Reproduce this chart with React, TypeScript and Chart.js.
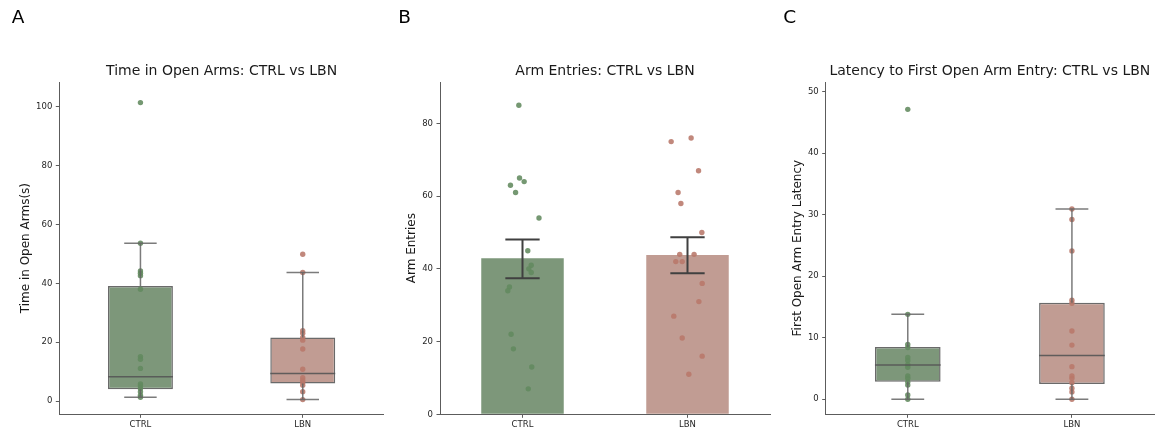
import React, { useEffect, useRef } from 'react';
import { Chart, registerables } from 'chart.js';

Chart.register(...registerables);

const FONT = "'DejaVu Sans', 'Liberation Sans', sans-serif";

// ---------- shared ----------
const categories = ['CTRL', 'LBN'];
const categoryPositions = [0, 1];

// ---------- Panel A: Time in Open Arms ----------
const timeCtrlPoints = [101.4, 53.6, 44.2, 43.4, 42.6, 38.0, 15.1, 14.2, 11.1, 5.8, 5.1, 4.3, 3.2, 2.0, 1.3];
const timeLbnPoints = [49.9, 43.7, 23.9, 23.0, 21.6, 20.7, 17.7, 10.8, 7.9, 7.1, 6.3, 5.4, 3.2, 0.5];
const timeQ1 = [4.0, 6.0];
const timeMedian = [8.3, 9.4];
const timeQ3 = [39.1, 21.6];
const timeWhiskerLow = [1.3, 0.5];
const timeWhiskerHigh = [53.6, 43.7];
const timeTicks = [0, 20, 40, 60, 80, 100];

// ---------- Panel B: Arm Entries ----------
const entriesMean = [42.9, 43.8];
const entriesErrLow = [37.4, 38.8];
const entriesErrHigh = [48.1, 48.7];
const entriesCtrlPoints = [85, 65, 64, 63, 61, 54, 45, 41, 40, 39, 35, 34, 22, 18, 13, 7];
const entriesCtrlJitter = [-0.022, -0.018, 0.01, -0.073, -0.042, 0.1, 0.032, 0.053, 0.038, 0.053, -0.079, -0.089, -0.069, -0.055, 0.056, 0.035];
const entriesLbnPoints = [75, 76, 67, 61, 58, 50, 44, 44, 42, 42, 36, 31, 27, 21, 16, 11];
const entriesLbnJitter = [-0.099, 0.022, 0.067, -0.057, -0.04, 0.087, -0.047, 0.04, -0.071, -0.032, 0.089, 0.069, -0.083, -0.032, 0.089, 0.008];
const entriesTicks = [0, 20, 40, 60, 80];

// ---------- Panel C: Latency ----------
const latCtrlPoints = [47.1, 13.8, 8.9, 8.4, 6.8, 6.3, 5.6, 5.2, 3.8, 3.4, 2.8, 2.3, 0.7, 0.0];
const latLbnPoints = [30.9, 29.2, 24.1, 16.1, 15.6, 11.1, 8.8, 5.3, 3.8, 3.4, 2.7, 1.8, 1.2, 0.0];
const latQ1 = [2.85, 2.5];
const latMedian = [5.55, 7.1];
const latQ3 = [8.5, 15.7];
const latWhiskerLow = [0.0, 0.0];
const latWhiskerHigh = [13.8, 30.9];
const latTicks = [0, 10, 20, 30, 40, 50];

// ---------- colours ----------
const FILLS = ['rgb(125,151,122)', 'rgb(193,156,147)'];
const POINTS = ['rgba(98,138,95,0.88)', 'rgba(184,120,106,0.88)'];
const AXIS = '#5c5c5c';
const TEXT = '#262626';

function makeBoxPlugin(q1: number[], med: number[], q3: number[], lo: number[], hi: number[]) {
  return {
    id: 'boxWhiskers',
    afterDatasetsDraw(chart: any) {
      const x = chart.scales.x;
      const y = chart.scales.y;
      const ctx = chart.ctx;
      ctx.save();
      categoryPositions.forEach((pos, i) => {
        const cx = x.getPixelForValue(pos);
        const capL = x.getPixelForValue(pos - 0.1);
        const capR = x.getPixelForValue(pos + 0.1);
        const boxL = x.getPixelForValue(pos - 0.2);
        const boxR = x.getPixelForValue(pos + 0.2);
        const yq1 = y.getPixelForValue(q1[i]);
        const yq3 = y.getPixelForValue(q3[i]);
        const ylo = y.getPixelForValue(lo[i]);
        const yhi = y.getPixelForValue(hi[i]);
        const ym = y.getPixelForValue(med[i]);
        ctx.strokeStyle = 'rgba(100,100,100,0.85)';
        ctx.lineWidth = 1.5;
        ctx.beginPath();
        ctx.moveTo(cx, yq3); ctx.lineTo(cx, yhi);
        ctx.moveTo(cx, yq1); ctx.lineTo(cx, ylo);
        ctx.moveTo(capL, yhi); ctx.lineTo(capR, yhi);
        ctx.moveTo(capL, ylo); ctx.lineTo(capR, ylo);
        ctx.stroke();
        ctx.strokeStyle = 'rgba(85,85,85,0.9)';
        ctx.beginPath();
        ctx.moveTo(boxL, ym); ctx.lineTo(boxR, ym);
        ctx.stroke();
      });
      ctx.restore();
    },
  };
}

function makeErrorPlugin(lo: number[], hi: number[]) {
  return {
    id: 'errorBars',
    afterDatasetsDraw(chart: any) {
      const x = chart.scales.x;
      const y = chart.scales.y;
      const ctx = chart.ctx;
      ctx.save();
      ctx.strokeStyle = '#404040';
      ctx.lineWidth = 2;
      categoryPositions.forEach((pos, i) => {
        const cx = x.getPixelForValue(pos);
        const capL = x.getPixelForValue(pos - 0.104);
        const capR = x.getPixelForValue(pos + 0.104);
        const ylo = y.getPixelForValue(lo[i]);
        const yhi = y.getPixelForValue(hi[i]);
        ctx.beginPath();
        ctx.moveTo(cx, ylo); ctx.lineTo(cx, yhi);
        ctx.moveTo(capL, ylo); ctx.lineTo(capR, ylo);
        ctx.moveTo(capL, yhi); ctx.lineTo(capR, yhi);
        ctx.stroke();
      });
      ctx.restore();
    },
  };
}

function makeLetterPlugin(text: string, lx: number) {
  return {
    id: 'panelLetter',
    afterDraw(chart: any) {
      const ctx = chart.ctx;
      ctx.save();
      ctx.font = `18.5px ${FONT}`;
      ctx.fillStyle = '#000';
      ctx.textBaseline = 'alphabetic';
      ctx.textAlign = 'left';
      ctx.fillText(text, lx, 22.7);
      ctx.restore();
    },
  };
}

type PanelGeom = {
  axisLeft: number; // y-axis width inside canvas
  rightPad: number;
  yMin: number;
  yMax: number;
  yTicks: number[];
  yTitle: string;
  yTitlePad: number;
  title: string;
};

function baseOptions(g: PanelGeom) {
  return {
    responsive: false,
    animation: false,
    devicePixelRatio: 1,
    events: [],
    layout: { padding: { top: 62.6, right: g.rightPad, bottom: 0, left: 0 } },
    plugins: {
      legend: { display: false },
      tooltip: { enabled: false },
      title: {
        display: true,
        text: g.title,
        fullSize: false,
        color: '#1a1a1a',
        font: { family: FONT, size: 14, weight: 'normal', lineHeight: 1.2 },
        padding: { top: 0, bottom: 2.6 },
      },
    },
    scales: {
      x: {
        type: 'linear',
        min: -0.5,
        max: 1.5,
        offset: false,
        afterBuildTicks: (s: any) => { s.ticks = categoryPositions.map((v) => ({ value: v })); },
        afterFit: (s: any) => { s.height = 19.7; },
        grid: { display: true, offset: false, drawOnChartArea: false, drawTicks: true, tickLength: 3.5, color: AXIS, tickColor: AXIS, lineWidth: 1 },
        border: { display: true, color: AXIS, width: 1 },
        ticks: {
          padding: 2,
          color: TEXT,
          font: { family: FONT, size: 8.5 },
          maxRotation: 0,
          autoSkip: false,
          callback: (v: number) => categories[categoryPositions.indexOf(v)] ?? '',
        },
      },
      y: {
        type: 'linear',
        min: g.yMin,
        max: g.yMax,
        afterBuildTicks: (s: any) => { s.ticks = g.yTicks.map((v) => ({ value: v })); },
        afterFit: (s: any) => { s.width = g.axisLeft; },
        grid: { display: true, drawOnChartArea: false, drawTicks: true, tickLength: 3.5, color: AXIS, tickColor: AXIS, lineWidth: 1 },
        border: { display: true, color: AXIS, width: 1 },
        ticks: {
          padding: 3.5,
          color: TEXT,
          font: { family: FONT, size: 8.5 },
          callback: (v: number) => String(v),
        },
        title: {
          display: true,
          text: g.yTitle,
          color: '#1a1a1a',
          font: { family: FONT, size: 12, lineHeight: 1.2 },
          padding: { top: g.yTitlePad, bottom: 0 },
        },
      },
    },
  };
}

function boxConfig(g: PanelGeom, letter: string, lx: number, ctrl: number[], lbn: number[], q1: number[], med: number[], q3: number[], lo: number[], hi: number[]) {
  return {
    type: 'bar',
    data: {
      datasets: [
        {
          type: 'bar',
          order: 2,
          data: categoryPositions.map((p, i) => ({ x: p, y: [q1[i], q3[i]] })),
          backgroundColor: FILLS,
          borderColor: 'rgba(90,90,90,0.9)',
          borderWidth: 1.5,
          borderSkipped: false,
          barPercentage: 0.4,
          categoryPercentage: 1,
        },
        {
          type: 'scatter',
          order: 1,
          data: ctrl.map((v) => ({ x: categoryPositions[0], y: v })),
          backgroundColor: POINTS[0],
          borderWidth: 0,
          pointRadius: 2.7,
        },
        {
          type: 'scatter',
          order: 1,
          data: lbn.map((v) => ({ x: categoryPositions[1], y: v })),
          backgroundColor: POINTS[1],
          borderWidth: 0,
          pointRadius: 2.7,
        },
      ],
    },
    options: baseOptions(g),
    plugins: [makeBoxPlugin(q1, med, q3, lo, hi), makeLetterPlugin(letter, lx)],
  };
}

function barConfig(g: PanelGeom) {
  return {
    type: 'bar',
    data: {
      datasets: [
        {
          type: 'bar',
          order: 2,
          data: categoryPositions.map((p, i) => ({ x: p, y: entriesMean[i] })),
          backgroundColor: FILLS,
          borderWidth: 0,
          barPercentage: 0.5,
          categoryPercentage: 1,
        },
        {
          type: 'scatter',
          order: 1,
          data: entriesCtrlPoints.map((v, j) => ({ x: categoryPositions[0] + entriesCtrlJitter[j], y: v })),
          backgroundColor: POINTS[0],
          borderWidth: 0,
          pointRadius: 2.7,
        },
        {
          type: 'scatter',
          order: 1,
          data: entriesLbnPoints.map((v, j) => ({ x: categoryPositions[1] + entriesLbnJitter[j], y: v })),
          backgroundColor: POINTS[1],
          borderWidth: 0,
          pointRadius: 2.7,
        },
      ],
    },
    options: baseOptions(g),
    plugins: [makeErrorPlugin(entriesErrLow, entriesErrHigh), makeLetterPlugin('B', 8.3)],
  };
}

const geomA: PanelGeom = { axisLeft: 59.3, rightPad: 6.1, yMin: -4.5, yMax: 108.4, yTicks: timeTicks, yTitle: 'Time in Open Arms(s)', yTitlePad: 18.8, title: 'Time in Open Arms: CTRL vs LBN' };
const geomB: PanelGeom = { axisLeft: 50, rightPad: 10, yMin: 0, yMax: 91.4, yTicks: entriesTicks, yTitle: 'Arm Entries', yTitlePad: 14.5, title: 'Arm Entries: CTRL vs LBN' };
const geomC: PanelGeom = { axisLeft: 45.7, rightPad: 2.3, yMin: -2.44, yMax: 51.54, yTicks: latTicks, yTitle: 'First Open Arm Entry Latency', yTitlePad: 11.1, title: 'Latency to First Open Arm Entry: CTRL vs LBN' };

function PanelChart({ left, width, makeConfig }: { left: number; width: number; makeConfig: () => any }) {
  const ref = useRef<HTMLCanvasElement | null>(null);
  useEffect(() => {
    if (!ref.current) return;
    const chart = new Chart(ref.current, makeConfig());
    return () => chart.destroy();
  }, []);
  return (
    <canvas
      ref={ref}
      width={width}
      height={434}
      style={{ position: 'absolute', left, top: 0, width, height: 434 }}
    />
  );
}

export default function App() {
  return (
    <div style={{ position: 'absolute', left: 0, top: 0, width: 1158, height: 434, background: '#fff', overflow: 'hidden' }}>
      <PanelChart
        left={0}
        width={390}
        makeConfig={() => boxConfig(geomA, 'A', 11.7, timeCtrlPoints, timeLbnPoints, timeQ1, timeMedian, timeQ3, timeWhiskerLow, timeWhiskerHigh)}
      />
      <PanelChart left={390} width={390} makeConfig={() => barConfig(geomB)} />
      <PanelChart
        left={780}
        width={378}
        makeConfig={() => boxConfig(geomC, 'C', 3.3, latCtrlPoints, latLbnPoints, latQ1, latMedian, latQ3, latWhiskerLow, latWhiskerHigh)}
      />
    </div>
  );
}
